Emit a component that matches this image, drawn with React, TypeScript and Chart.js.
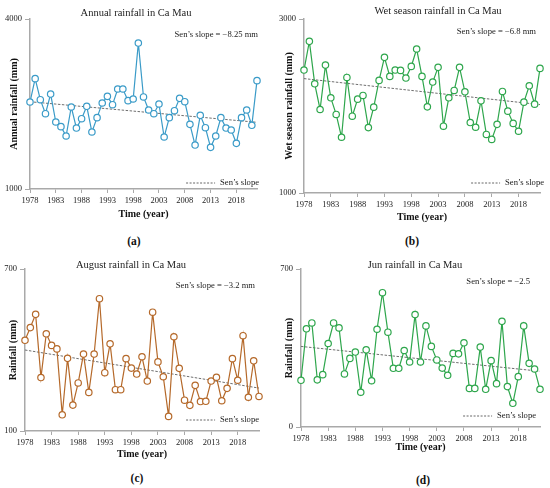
import { useEffect, useRef } from "react"
import { Chart, registerables } from "chart.js"

Chart.register(...registerables)

const years = [
  1978, 1979, 1980, 1981, 1982, 1983, 1984, 1985, 1986, 1987, 1988, 1989, 1990, 1991, 1992,
  1993, 1994, 1995, 1996, 1997, 1998, 1999, 2000, 2001, 2002, 2003, 2004, 2005, 2006, 2007,
  2008, 2009, 2010, 2011, 2012, 2013, 2014, 2015, 2016, 2017, 2018, 2019, 2020, 2021, 2022,
]
const yearTicks = [1978, 1983, 1988, 1993, 1998, 2003, 2008, 2013, 2018]

const annualRain = [
  2535, 2947, 2576, 2329, 2676, 2182, 2100, 1935, 2447, 2076, 2241, 2459, 2006, 2259, 2518,
  2635, 2488, 2765, 2765, 2559, 2588, 3576, 2624, 2394, 2329, 2500, 1918, 2259, 2382, 2600,
  2541, 2141, 1776, 2300, 2082, 1735, 1935, 2259, 2076, 2041, 1806, 2259, 2394, 2124, 2912,
]
const wetRain = [
  2413, 2743, 2255, 1960, 2470, 2094, 1903, 1641, 2328, 1883, 2079, 2121, 1752, 1987, 2294,
  2559, 2340, 2413, 2409, 2321, 2455, 2655, 2340, 1990, 2275, 2444, 1768, 2094, 2179, 2444,
  2163, 1810, 1756, 2060, 1673, 1616, 1789, 2167, 1941, 1800, 1710, 2044, 2232, 2021, 2432,
]
const augustRain = [
  436, 483, 532, 298, 460, 417, 404, 160, 369, 196, 278, 385, 243, 385, 590,
  316, 423, 253, 253, 368, 333, 311, 375, 285, 540, 356, 301, 154, 449, 332,
  214, 195, 269, 209, 210, 285, 299, 212, 258, 368, 288, 453, 225, 360, 228,
]
const juneRain = [
  207, 435, 461, 209, 232, 370, 461, 439, 235, 304, 332, 154, 342, 205, 433,
  595, 420, 260, 260, 339, 288, 498, 288, 448, 357, 297, 261, 229, 326, 324,
  373, 171, 171, 354, 167, 294, 192, 468, 179, 105, 223, 448, 282, 257, 167,
]

// Sen's slope trend line, value at 1978 and at 2022
const annualSen = [2540, 2177]
const wetSen = [2315, 2016]
const augustSen = [400, 259]
const juneSen = [357, 247]

const serif = "'Liberation Serif', 'Times New Roman', serif"
const axisGray = "#a9a9a9"

const panelText = {
  id: "panelText",
  afterDatasetsDraw(chart: any, _args: any, opts: any) {
    const { ctx, chartArea } = chart
    ctx.save()
    ctx.fillStyle = "#222"
    ctx.textBaseline = "middle"
    ctx.font = `10.5px ${serif}`
    ctx.textAlign = "center"
    ctx.fillText(opts.title, opts.titleX, chartArea.top + opts.titleDy)

    ctx.font = `8.6px ${serif}`
    ctx.textAlign = "right"
    ctx.fillText(opts.slope, chartArea.right + opts.slopeDx, chartArea.top + opts.slopeDy)

    // legend entry
    const tx = chartArea.right + opts.legendDx
    const ty = chartArea.bottom + opts.legendDy
    ctx.fillText("Sen’s slope", tx, ty)
    const w = ctx.measureText("Sen’s slope").width
    ctx.strokeStyle = "#666"
    ctx.lineWidth = 1
    ctx.setLineDash([2, 1.5])
    ctx.beginPath()
    ctx.moveTo(tx - w - 34, ty)
    ctx.lineTo(tx - w - 5, ty)
    ctx.stroke()
    ctx.restore()
  },
}

type PanelProps = {
  values: number[]
  sen: number[]
  color: string
  title: string
  yTitle: string
  slope: string
  yMin: number
  yMax: number
  height: number
  padLeft: number
  padRight: number
  yWidth: number
  xHeight: number
  titleX: number
  titleDy: number
  slopeDx: number
  slopeDy: number
  legendDx: number
  legendDy: number
}

function Panel(p: PanelProps) {
  const canvasRef = useRef<HTMLCanvasElement>(null)
  const chartInstance = useRef<Chart | null>(null)

  useEffect(() => {
    if (!canvasRef.current) return
    if (chartInstance.current) chartInstance.current.destroy()

    const ctx = canvasRef.current.getContext("2d")
    if (!ctx) return

    chartInstance.current = new Chart(ctx, {
      type: "line",
      data: {
        datasets: [
          {
            data: years.map((y, i) => ({ x: y, y: p.values[i] })),
            borderColor: p.color,
            borderWidth: 1.2,
            pointRadius: 3.2,
            pointBorderWidth: 1.2,
            pointBackgroundColor: "#fff",
            pointBorderColor: p.color,
            tension: 0,
            clip: false,
          },
          {
            data: [
              { x: years[0], y: p.sen[0] },
              { x: years[years.length - 1], y: p.sen[1] },
            ],
            borderColor: "#6e6e6e",
            borderWidth: 1,
            borderDash: [2.5, 1.5],
            pointRadius: 0,
            clip: false,
          },
        ],
      },
      options: {
        animation: false,
        responsive: false,
        layout: { padding: { left: p.padLeft, right: p.padRight, top: 19, bottom: 1 } },
        plugins: {
          legend: { display: false },
          tooltip: { enabled: false },
          panelText: {
            title: p.title,
            titleX: p.titleX,
            titleDy: p.titleDy,
            slope: p.slope,
            slopeDx: p.slopeDx,
            slopeDy: p.slopeDy,
            legendDx: p.legendDx,
            legendDy: p.legendDy,
          },
        } as any,
        scales: {
          x: {
            type: "linear",
            min: years[0],
            max: years[years.length - 1],
            afterBuildTicks: (s: any) => {
              s.ticks = yearTicks.map((v) => ({ value: v }))
            },
            afterFit: (s: any) => {
              s.height = p.xHeight
            },
            grid: { display: true, drawOnChartArea: false, drawTicks: true, tickLength: 4, color: axisGray },
            border: { display: true, color: axisGray, width: 1.5 },
            ticks: {
              color: "#222",
              font: { family: serif, size: 8.5 },
              padding: 3,
              maxRotation: 0,
              callback: (v: any) => String(v),
            },
            title: {
              display: true,
              text: "Time (year)",
              color: "#111",
              font: { family: serif, size: 10, weight: "bold" },
              padding: { top: 2, bottom: 4 },
            },
          },
          y: {
            type: "linear",
            min: p.yMin,
            max: p.yMax,
            afterBuildTicks: (s: any) => {
              s.ticks = [{ value: p.yMin }, { value: p.yMax }]
            },
            afterFit: (s: any) => {
              s.width = p.yWidth
            },
            grid: { display: true, drawOnChartArea: false, drawTicks: true, tickLength: 5, color: axisGray },
            border: { display: true, color: axisGray, width: 1.5 },
            ticks: {
              color: "#222",
              font: { family: serif, size: 8.5 },
              padding: 3,
              callback: (v: any) => String(v),
            },
            title: {
              display: true,
              text: p.yTitle,
              color: "#111",
              font: { family: serif, size: 10, weight: "bold" },
              padding: { top: 4, bottom: 4 },
            },
          },
        },
      },
      plugins: [panelText],
    })

    return () => {
      if (chartInstance.current) {
        chartInstance.current.destroy()
        chartInstance.current = null
      }
    }
  }, [])

  return <canvas ref={canvasRef} width={275} height={p.height} style={{ display: "block" }} />
}

function Caption({ text, cx, cy }: { text: string; cx: number; cy: number }) {
  return (
    <div
      style={{
        position: "absolute",
        left: cx - 20,
        top: cy - 8,
        width: 40,
        height: 16,
        lineHeight: "16px",
        textAlign: "center",
        fontFamily: serif,
        fontWeight: "bold",
        fontSize: 11.5,
        color: "#111",
      }}
    >
      {text}
    </div>
  )
}

export default function App() {
  return (
    <div style={{ position: "absolute", left: 0, top: 0, width: 550, height: 488, background: "#fff" }}>
      <div style={{ position: "absolute", left: 0, top: 0 }}>
        <Panel
          values={annualRain}
          sen={annualSen}
          color="#3a9bc8"
          title="Annual rainfall in Ca Mau"
          yTitle="Annual rainfall (mm)"
          slope="Sen’s slope = −8.25 mm"
          yMin={1000}
          yMax={4000}
          height={225}
          padLeft={4}
          padRight={18}
          yWidth={26}
          xHeight={35}
          titleX={136}
          titleDy={-6}
          slopeDx={1}
          slopeDy={16}
          legendDx={2}
          legendDy={-6}
        />
      </div>
      <div style={{ position: "absolute", left: 275, top: 0 }}>
        <Panel
          values={wetRain}
          sen={wetSen}
          color="#2ea64c"
          title="Wet season rainfall in Ca Mau"
          yTitle="Wet season rainfall (mm)"
          slope="Sen’s slope = −6.8 mm"
          yMin={1000}
          yMax={3000}
          height={228}
          padLeft={4}
          padRight={10}
          yWidth={25}
          xHeight={34}
          titleX={163}
          titleDy={-8}
          slopeDx={-4}
          slopeDy={13}
          legendDx={4}
          legendDy={-10}
        />
      </div>
      <div style={{ position: "absolute", left: 0, top: 250 }}>
        <Panel
          values={augustRain}
          sen={augustSen}
          color="#b5692a"
          title="August rainfall in Ca Mau"
          yTitle="Rainfall (mm)"
          slope="Sen’s slope = −3.2 mm"
          yMin={100}
          yMax={700}
          height={215}
          padLeft={3}
          padRight={16}
          yWidth={22}
          xHeight={33}
          titleX={131}
          titleDy={-4}
          slopeDx={-4}
          slopeDy={17}
          legendDx={0}
          legendDy={-11}
        />
      </div>
      <div style={{ position: "absolute", left: 275, top: 250 }}>
        <Panel
          values={juneRain}
          sen={juneSen}
          color="#2ea64c"
          title="Jun rainfall in Ca Mau"
          yTitle="Rainfall (mm)"
          slope="Sen’s slope = −2.5"
          yMin={0}
          yMax={700}
          height={208}
          padLeft={4}
          padRight={10}
          yWidth={22}
          xHeight={30}
          titleX={140}
          titleDy={-4}
          slopeDx={-10}
          slopeDy={13}
          legendDx={-4}
          legendDy={-11}
        />
      </div>
      <Caption text="(a)" cx={134} cy={241} />
      <Caption text="(b)" cx={412} cy={241} />
      <Caption text="(c)" cx={137} cy={478} />
      <Caption text="(d)" cx={423} cy={480} />
    </div>
  )
}
